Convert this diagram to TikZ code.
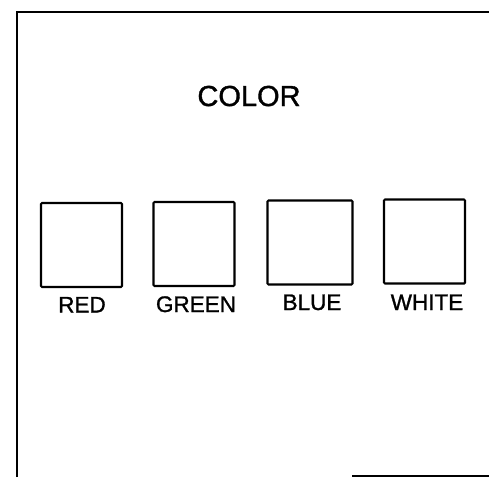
\documentclass[tikz,border=0pt]{standalone}
\usepackage{fontspec}
\setmainfont{Liberation Sans}
\newfontfamily\heavysans[FakeBold=1.2]{Liberation Sans}
\begin{document}
\begin{tikzpicture}[x=1pt,y=-1pt,
  swatch/.style={draw, line width=2.1pt, rounded corners=1pt, minimum width=81pt, minimum height=84pt, inner sep=0pt},
  lbl/.style={font=\heavysans\fontsize{22.5}{26}\selectfont, inner sep=0pt, anchor=base},
  frameline/.style={line width=2pt}]
\useasboundingbox (0,0) rectangle (489,477);
\coordinate (tl) at (17,12);
\coordinate (tr) at (489,12);
\coordinate (bl) at (17,477);
\coordinate (bs) at (352,476);
\coordinate (be) at (489,476);
\draw[frameline] (bl) -- (tl) -- (tr);
\draw[frameline, line width=1.4pt] (bs) -- (be);
\node[font=\heavysans\fontsize{29}{34}\selectfont, inner sep=0pt, anchor=base] (title) at (249,106) {COLOR};
\node[swatch] (red) at (81.5,245) {};
\node[swatch] (green) at (194,244) {};
\node[swatch, minimum width=85pt] (blue) at (310,242.5) {};
\node[swatch] (white) at (424.5,241.5) {};
\node[lbl] (lred) at (82,312.5) {RED};
\node[lbl] (lgreen) at (196,312) {GREEN};
\node[lbl] (lblue) at (312,310) {BLUE};
\node[lbl] (lwhite) at (427,310) {WHITE};
\end{tikzpicture}
\end{document}
